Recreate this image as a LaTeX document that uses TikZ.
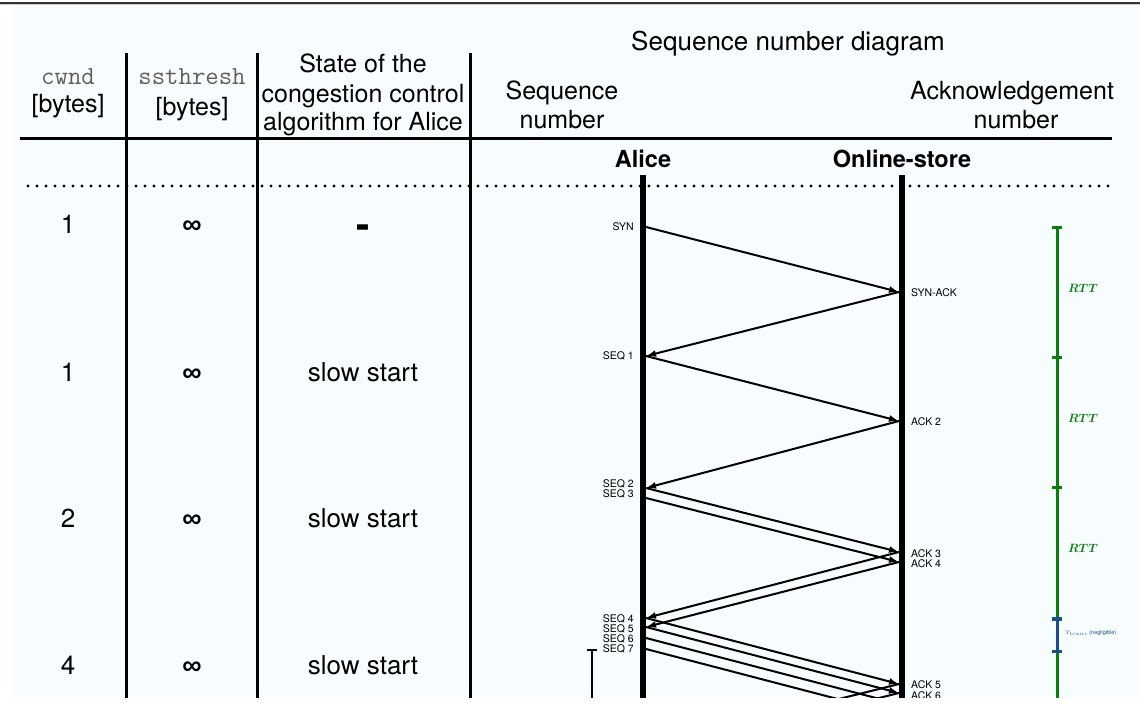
\documentclass[tikz,border=0pt]{standalone}
\usepackage{fontspec}
\setmainfont{TeX Gyre Heros}
\newfontfamily\inffont{Liberation Sans}
\usetikzlibrary{arrows.meta}

\definecolor{pagebg}{RGB}{247,253,254}
\definecolor{rttgreen}{RGB}{12,125,12}
\definecolor{transblue}{RGB}{25,80,140}
\definecolor{hdrgrey}{RGB}{100,95,90}

\tikzset{
  hdr/.style={font=\fontsize{25}{25}\selectfont, anchor=base},
  monohdr/.style={font=\ttfamily\fontsize{26}{26}\selectfont, text=hdrgrey, anchor=base},
  cell/.style={font=\fontsize{26}{26}\selectfont, anchor=base},
  infcell/.style={font=\inffont\bfseries\fontsize{27}{27}\selectfont, anchor=base},
  who/.style={font=\fontsize{23.5}{23.5}\selectfont\bfseries, anchor=base},
  seqlbl/.style={font=\fontsize{10.5}{10.5}\selectfont, anchor=base east, inner sep=0pt},
  acklbl/.style={font=\fontsize{10.5}{10.5}\selectfont, anchor=base west, inner sep=0pt},
  rttlbl/.style={font=\fontsize{12}{12}\selectfont\boldmath, text=rttgreen, anchor=base west, inner sep=0pt},
  rule/.style={line width=3pt},
  lifeline/.style={line width=6.5pt},
  msg/.style={->, >={Latex[length=10pt,width=7pt]}, line width=2pt},
  rtt/.style={rttgreen, line width=3pt},
  trans/.style={transblue, line width=3pt},
}

\begin{document}
\begin{tikzpicture}[x=1pt,y=-1pt]
\useasboundingbox (0,0) rectangle (1140,707);
\fill[white] (0,0) rectangle (1140,707);
\fill[pagebg] (13,6) rectangle (1140,697);
\draw[line width=2pt, black!80] (0,2.5) -- (1140,2.5);
\draw[line width=1pt, black!20] (0,4.5) -- (1140,4.5);

\begin{scope}
\clip (13,6) rectangle (1140,697);

\draw[rule] (126,53) -- (126,700);
\draw[rule] (257,53) -- (257,700);
\draw[rule] (470,53) -- (470,700);
\draw[rule] (20,138) -- (1112,138);
\draw[line width=3.2pt, line cap=round, dash pattern=on 0pt off 9pt] (28,186) -- (1112,186);

\node[monohdr] (cwnd) at (68,84) {cwnd};
\node[hdr] (cwndunit) at (68,112) {[bytes]};
\node[monohdr] (ssthresh) at (192,84) {ssthresh};
\node[hdr] (ssthreshunit) at (192,115) {[bytes]};
\node[hdr] (state1) at (363,72) {State of the};
\node[hdr] (state2) at (363,102) {congestion control};
\node[hdr] (state3) at (363,130) {algorithm for Alice};
\node[hdr, font=\fontsize{26}{26}\selectfont] (title) at (788,50) {Sequence number diagram};
\node[hdr] (seqhdr1) at (562,99) {Sequence};
\node[hdr] (seqhdr2) at (562,128) {number};
\node[hdr] (ackhdr1) at (1012,99) {Acknowledgement};
\node[hdr] (ackhdr2) at (1016,128) {number};

\node[cell] (cw1) at (68,233) {1};
\node[cell] (cw2) at (68,381) {1};
\node[cell] (cw3) at (68,527) {2};
\node[cell] (cw4) at (68,674) {4};
\node[infcell] (th1) at (192,233) {∞};
\node[infcell] (th2) at (192,381) {∞};
\node[infcell] (th3) at (192,527) {∞};
\node[infcell] (th4) at (192,674) {∞};
\node[cell, font=\fontsize{40}{40}\selectfont\bfseries] (st1) at (363,238) {-};
\node[cell] (st2) at (363,381) {slow start};
\node[cell] (st3) at (363,527) {slow start};
\node[cell] (st4) at (363,674) {slow start};

\node[who] (alice) at (643,167) {Alice};
\node[who] (store) at (902,167) {Online-store};
\coordinate (aliceend) at (643,700);
\coordinate (storeend) at (902,700);
\draw[lifeline] (643,175) -- (aliceend);
\draw[lifeline] (902,175) -- (storeend);

\coordinate (syn) at (646,227);
\coordinate (synack) at (899,292);
\coordinate (seq1) at (646,356);
\coordinate (ack2) at (899,421);
\coordinate (seq2) at (646,488);
\coordinate (seq3) at (646,498);
\coordinate (ack3) at (899,552);
\coordinate (ack4) at (899,562);
\coordinate (seq4) at (646,618);
\coordinate (seq5) at (646,627);
\coordinate (seq6) at (646,638);
\coordinate (seq7) at (646,649);
\coordinate (ack5) at (899,684);
\coordinate (ack6) at (899,693);
\coordinate (ack7) at (899,704);
\coordinate (ack8) at (899,715);
\coordinate (seq8) at (646,747);
\coordinate (seq9) at (646,756);

\draw[msg] (syn) -- (synack);
\draw[msg] (synack) -- (seq1);
\draw[msg] (seq1) -- (ack2);
\draw[msg] (ack2) -- (seq2);
\draw[msg] (seq2) -- (ack3);
\draw[msg] (seq3) -- (ack4);
\draw[msg] (ack3) -- (seq4);
\draw[msg] (ack4) -- (seq5);
\draw[msg] (seq4) -- (ack5);
\draw[msg] (seq5) -- (ack6);
\draw[msg] (seq6) -- (ack7);
\draw[msg] (seq7) -- (ack8);
\draw[msg] (ack5) -- (seq8);
\draw[msg] (ack6) -- (seq9);

\node[seqlbl] (synlbl) at (634,230) {SYN};
\node[acklbl] (synacklbl) at (911,296) {SYN-ACK};
\node[seqlbl] (seq1lbl) at (634,359) {SEQ 1};
\node[acklbl] (ack2lbl) at (911,425) {ACK 2};
\node[seqlbl] (seq2lbl) at (634,487) {SEQ 2};
\node[seqlbl] (seq3lbl) at (634,497) {SEQ 3};
\node[acklbl] (ack3lbl) at (911,557) {ACK 3};
\node[acklbl] (ack4lbl) at (911,567) {ACK 4};
\node[seqlbl] (seq4lbl) at (634,622) {SEQ 4};
\node[seqlbl] (seq5lbl) at (634,632) {SEQ 5};
\node[seqlbl] (seq6lbl) at (634,642) {SEQ 6};
\node[seqlbl] (seq7lbl) at (634,652) {SEQ 7};
\node[acklbl] (ack5lbl) at (911,688) {ACK 5};
\node[acklbl] (ack6lbl) at (911,699) {ACK 6};

\coordinate (tstart) at (592,650);
\coordinate (tend) at (592,700);
\draw[line width=2.5pt] ([xshift=-5pt]tstart) -- ([xshift=5pt]tstart);
\draw[line width=2.5pt] (tstart) -- (tend);

\coordinate (r0) at (1057,227);
\coordinate (r1) at (1057,357);
\coordinate (r2) at (1057,487);
\coordinate (r3) at (1057,619);
\coordinate (r4) at (1057,651);
\coordinate (r5) at (1057,700);
\draw[rtt] (r0) -- (r3);
\draw[rtt] (r4) -- (r5);
\draw[rtt] ([xshift=-5pt]r0) -- ([xshift=5pt]r0);
\draw[rtt] ([xshift=-5pt]r1) -- ([xshift=5pt]r1);
\draw[rtt] ([xshift=-5pt]r2) -- ([xshift=5pt]r2);
\draw[trans] (r3) -- (r4);
\draw[transblue, line width=4.5pt] ([xshift=-5pt]r3) -- ([xshift=5pt]r3);
\draw[trans] ([xshift=-5pt]r4) -- ([xshift=5pt]r4);
\node[rttlbl] (rtt1) at (1068,292) {$RTT$};
\node[rttlbl] (rtt2) at (1068,422) {$RTT$};
\node[rttlbl] (rtt3) at (1068,552) {$RTT$};
\node[anchor=base west, inner sep=0pt, text=transblue, font=\fontsize{5.5}{5.5}\selectfont] (translbl) at (1065,634) {$T_{trans}$ (negligible)};
\end{scope}
\end{tikzpicture}
\end{document}
